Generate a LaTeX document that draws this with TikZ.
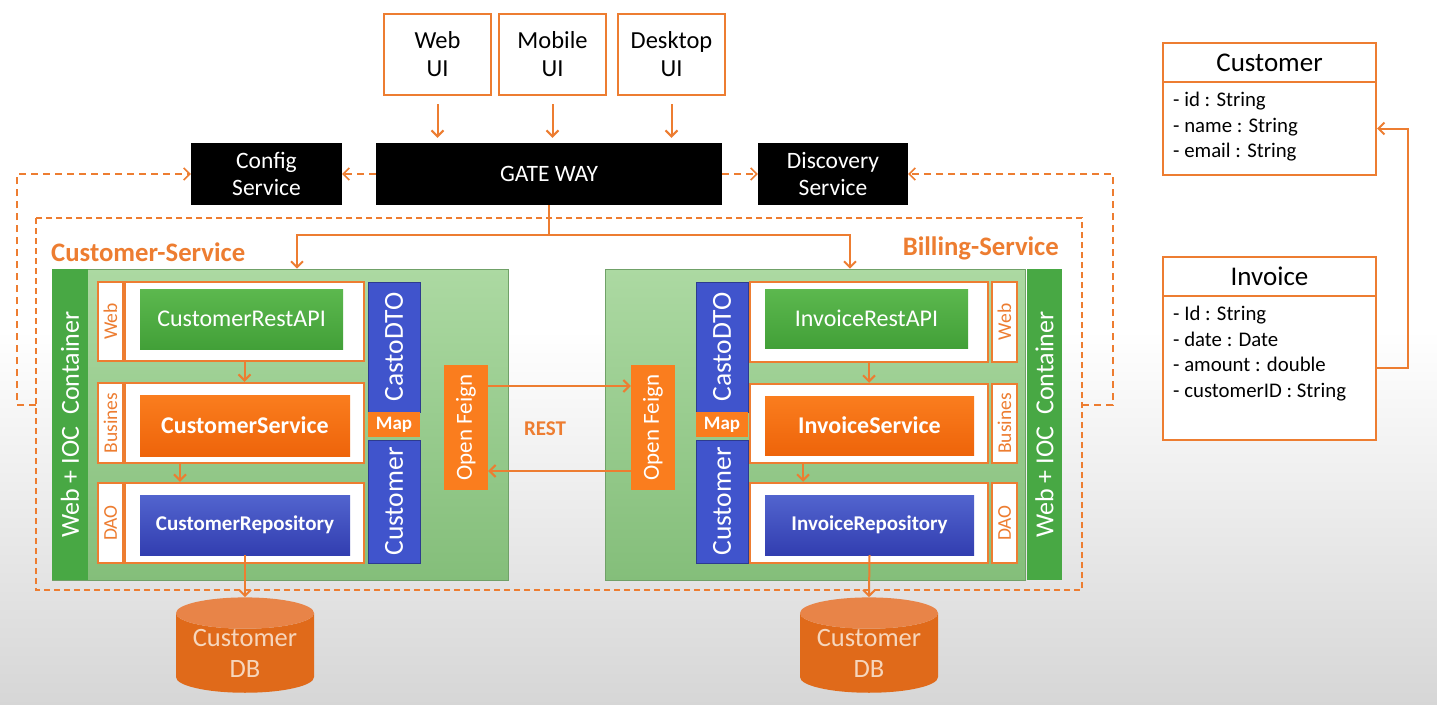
\documentclass[tikz,border=0pt]{standalone}
\usepackage{fontspec}
\setmainfont{Carlito}
\usetikzlibrary{arrows.meta,shapes.geometric}
\definecolor{orng}{RGB}{237,125,49}
\definecolor{boxorng}{RGB}{250,125,30}
\definecolor{boxorngdark}{RGB}{238,100,10}
\definecolor{dborng}{RGB}{224,106,26}
\definecolor{dbtop}{RGB}{232,132,72}
\definecolor{paneltop}{RGB}{172,217,162}
\definecolor{panelbot}{RGB}{132,190,122}
\definecolor{iocgreen}{RGB}{72,168,68}
\definecolor{apigreen}{RGB}{92,184,78}
\definecolor{apigreendark}{RGB}{66,160,56}
\definecolor{repoblue}{RGB}{82,100,206}
\definecolor{repobluedark}{RGB}{50,62,176}
\definecolor{dtoblue}{RGB}{64,84,204}
\definecolor{dbtext}{RGB}{246,214,188}
\tikzset{
  sz/.style 2 args={minimum width=#1pt,minimum height=#2pt},
  ui/.style={draw=orng,line width=2.5pt,fill=white,align=center,sz={107}{81},
    font=\fontsize{24.5}{28}\selectfont},
  blackbox/.style={fill=black,text=white,align=center,inner sep=2pt,
    font=\fontsize{23.5}{27}\selectfont},
  arr/.style={draw=orng,line width=2pt,-{Straight Barb[length=6pt,width=12pt]}},
  dasharr/.style={draw=orng,line width=1.6pt,dash pattern=on 7pt off 5pt,
    -{Straight Barb[length=6pt,width=12pt]}},
  svclabel/.style={text=orng,inner sep=0pt,font=\fontsize{26.7}{30}\selectfont\bfseries},
  panel/.style={top color=paneltop,bottom color=panelbot,draw=panelbot!85!black,line width=0.6pt},
  ioc/.style={fill=iocgreen,text=white,rotate=90,inner sep=0pt,
    font=\fontsize{26}{30}\selectfont},
  tag/.style={draw=orng,line width=2.5pt,fill=white,text=orng,rotate=90,inner sep=0pt,
    font=\fontsize{19.5}{22}\selectfont},
  layer/.style={draw=orng,line width=2.5pt,fill=white},
  api/.style={top color=apigreen,bottom color=apigreendark,text=white,
    font=\fontsize{24}{28}\selectfont},
  svc/.style={top color=boxorng,bottom color=boxorngdark,text=white,
    font=\fontsize{24}{28}\selectfont\bfseries},
  repo/.style={top color=repoblue,bottom color=repobluedark,text=white,
    font=\fontsize{21}{25}\selectfont\bfseries},
  vbar/.style={fill=dtoblue,draw=dtoblue!70!black,line width=0.6pt,text=white,rotate=90,
    inner sep=0pt,font=\fontsize{27.5}{31}\selectfont},
  mapbox/.style={fill=boxorng,text=white,inner sep=0pt,sz={52}{25},
    font=\fontsize{19}{22}\selectfont\bfseries},
  feign/.style={fill=boxorng,text=white,rotate=90,inner sep=0pt,sz={125}{44},
    font=\fontsize{23}{27}\selectfont},
  db/.style={cylinder,shape border rotate=90,aspect=0.3,cylinder uses custom fill,
    cylinder body fill=dborng,cylinder end fill=dbtop,
    text=dbtext,align=center,minimum width=138pt,minimum height=94pt,inner sep=0pt,
    font=\fontsize{26.5}{31}\selectfont},
  cls/.style={draw=orng,line width=2pt,fill=white,font=\fontsize{27}{31}\selectfont},
  attr/.style={align=left,anchor=north west,inner sep=0pt,font=\fontsize{20.8}{25.5}\selectfont}
}
\begin{document}
\begin{tikzpicture}[x=1pt,y=-1pt]
  \useasboundingbox (0,0) rectangle (1437,704);
  \fill[white] (0,0) rectangle (1437,704);
  \shade[top color=white,bottom color=gray!32] (0,330) rectangle (1437,704);

  \node[ui] (webui) at (437.5,54.5) {Web\\UI};
  \node[ui] (mobileui) at (552.5,54.5) {Mobile\\UI};
  \node[ui] (desktopui) at (671.5,54.5) {Desktop\\UI};

  \node[blackbox,sz={346}{62}] (gateway) at (549,174) {GATE WAY};
  \node[blackbox,sz={151}{62}] (config) at (266.5,174) {Config\\Service};
  \node[blackbox,sz={150}{62}] (discovery) at (833,174) {Discovery\\Service};

  \begin{scope}[arr,shorten <=8pt,shorten >=5pt]
    \draw (webui) -- (webui |- gateway.north);
    \draw (mobileui) -- (mobileui |- gateway.north);
    \draw (desktopui) -- (desktopui |- gateway.north);
  \end{scope}

  \draw[dasharr] (gateway.west) -- (config.east);
  \draw[dasharr] (gateway.east) -- (discovery.west);
  \draw[draw=orng,line width=1.3pt,dash pattern=on 6pt off 4pt] (36,218) rectangle (1082,590);
  \coordinate (lb) at (36,405);
  \coordinate (rb) at (1082,405);
  \draw[dasharr] (lb) -- ++(-19,0) |- (config.west);
  \draw[dasharr] (rb) -- ++(31,0) |- (discovery.east);

  \node[svclabel,anchor=west] (cslabel) at (51,252) {Customer-Service};
  \node[svclabel,anchor=east] (bslabel) at (1059,248) {Billing-Service};

  \node[panel,sz={456}{311}] (cpanel) at (280,424.5) {};
  \node[panel,sz={420}{311}] (bpanel) at (815,424.5) {};
  \node[ioc,sz={311}{36}] (cioc) at (70,424.5) {Web + IOC\ \ Container};
  \node[ioc,sz={311}{35}] (bioc) at (1044.5,424.5) {Web + IOC\ \ Container};

  \coordinate (split) at (549,235);
  \draw[arr] (gateway.south) -- (split) -| ([xshift=17pt]cpanel.north);
  \draw[arr] (split) -| ([xshift=35pt]bpanel.north);

  % customer service
  \node[tag,sz={79}{25}] (cwebtag) at (110.5,321.5) {Web};
  \node[layer,sz={239}{79}] (cweb) at (244.5,321.5) {};
  \node[api,sz={203}{60}] (capi) at (241.5,319) {CustomerRestAPI};
  \node[tag,sz={80}{25}] (cbustag) at (110.5,423) {Busines};
  \node[layer,sz={239}{80}] (cbus) at (244.5,423) {};
  \node[svc,sz={210}{61}] (csvc) at (245,425.5) {CustomerService};
  \node[tag,sz={80}{25}] (cdaotag) at (110.5,523) {DAO};
  \node[layer,sz={239}{80}] (cdao) at (244.5,523) {};
  \node[repo,sz={210}{60}] (crepo) at (245,525) {CustomerRepository};
  \node[vbar,sz={130}{52}] (cdto) at (394,347) {CastoDTO};
  \node[mapbox] (cmap) at (394,424.5) {Map};
  \node[vbar,sz={123}{52}] (cent) at (394,501.5) {Customer};
  \node[feign] (cfeign) at (466,427.5) {Open Feign};
  \draw[arr] (cweb.south) -- (cbus.north);
  \draw[arr] ([xshift=-64.5pt]cbus.south) -- ([xshift=-64.5pt]cdao.north);
  \node[db] (cdb) at (245,653) {Customer\\DB};
  \draw[arr] (crepo.south) -- (cdb.north);

  % billing service
  \node[tag,sz={80}{25}] (bwebtag) at (1004.5,322) {Web};
  \node[layer,sz={238}{80}] (bweb) at (869,322) {};
  \node[api,sz={203}{59}] (bapi) at (866.5,318.5) {InvoiceRestAPI};
  \node[tag,sz={79}{25}] (bbustag) at (1004.5,423.5) {Busines};
  \node[layer,sz={238}{79}] (bbus) at (869,423.5) {};
  \node[svc,sz={209}{59}] (bsvc) at (869.5,425.5) {InvoiceService};
  \node[tag,sz={80}{25}] (bdaotag) at (1004.5,523) {DAO};
  \node[layer,sz={238}{80}] (bdao) at (869,523) {};
  \node[repo,sz={209}{60}] (brepo) at (869.5,525) {InvoiceRepository};
  \node[vbar,sz={130}{52}] (bdto) at (722,347) {CastoDTO};
  \node[mapbox] (bmap) at (722,424.5) {Map};
  \node[vbar,sz={123}{52}] (bent) at (722,501.5) {Customer};
  \node[feign] (bfeign) at (653,427.5) {Open Feign};
  \draw[arr] (bweb.south) -- (bbus.north);
  \draw[arr] ([xshift=-66pt]bbus.south) -- ([xshift=-66pt]bdao.north);
  \node[db] (bdb) at (869,653) {Customer\\DB};
  \draw[arr] (brepo.south) -- (bdb.north);

  \draw[arr] ([yshift=41.5pt]cfeign.south) -- ([yshift=41.5pt]bfeign.north);
  \draw[arr] ([yshift=-43.5pt]bfeign.north) -- ([yshift=-43.5pt]cfeign.south);
  \node[svclabel,font=\fontsize{21}{24}\selectfont\bfseries] (rest) at (545,429) {REST};

  % model classes
  \node[cls,sz={213}{39}] (custhead) at (1269.5,62.5) {Customer};
  \node[cls,sz={213}{93}] (custbody) at (1269.5,128.5) {};
  \node[attr] (custattr) at ([xshift=11pt,yshift=-11pt]custbody.north west)
    {- id : String\\- name : String\\- email : String};
  \node[cls,sz={213}{39}] (invhead) at (1269.5,276.5) {Invoice};
  \node[cls,sz={213}{144}] (invbody) at (1269.5,368) {};
  \node[attr] (invattr) at ([xshift=11pt,yshift=-11pt]invbody.north west)
    {- Id : String\\- date : Date\\- amount : double\\- customerID : String};
  \draw[arr] (invbody.east) -- ++(31,0) |- (custbody.east);
\end{tikzpicture}
\end{document}
